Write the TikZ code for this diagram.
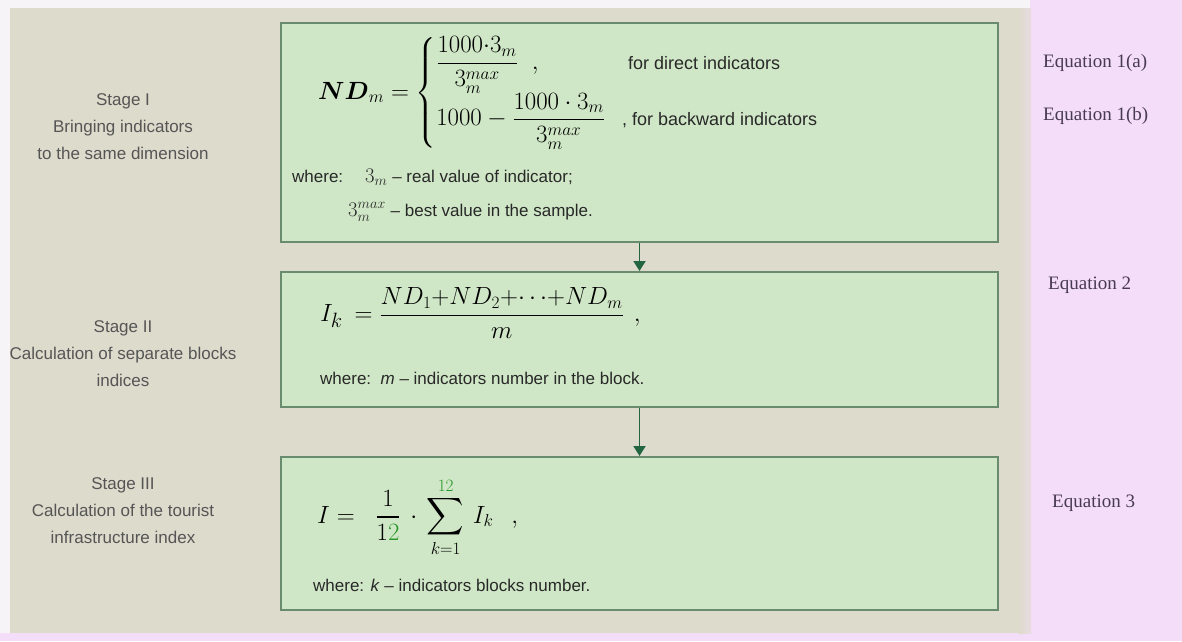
\documentclass[tikz,border=0pt]{standalone}
\usepackage{amsmath}
\usepackage{amssymb}
\usepackage[no-math]{fontspec}
\setmainfont{Liberation Sans}
\newfontfamily\eqfont{Liberation Serif}
\usepackage{xcolor}
\usetikzlibrary{arrows.meta}

\definecolor{pagewhite}{RGB}{246,244,246}
\definecolor{panelbeige}{RGB}{221,219,204}
\definecolor{panelpink}{RGB}{244,221,248}
\definecolor{boxfill}{RGB}{207,231,198}
\definecolor{boxline}{RGB}{106,140,110}
\definecolor{flowgreen}{RGB}{35,100,65}
\definecolor{stagegray}{RGB}{85,85,85}
\definecolor{labelplum}{RGB}{72,58,82}
\definecolor{inktext}{RGB}{40,40,40}
\definecolor{sumgreen}{RGB}{40,150,40}

\begin{document}
\begin{tikzpicture}[x=1pt,y=-1pt,>={Triangle[length=10pt,width=12pt]},
  stagebox/.style={draw=boxline,fill=boxfill,line width=2pt,minimum width=717pt,inner sep=0pt},
  stagelabel/.style={align=center,text=stagegray,font=\fontsize{17}{27}\selectfont},
  eqlabel/.style={anchor=west,inner sep=0pt,text=labelplum,font=\eqfont\fontsize{19}{21}\selectfont},
  formula/.style={anchor=west,inner sep=0pt,text=black},
  note/.style={anchor=west,inner sep=0pt,text=inktext,font=\fontsize{17}{20}\selectfont},
  flow/.style={->,draw=flowgreen,fill=flowgreen,line width=1.8pt}]
  \useasboundingbox (0,0) rectangle (1182,641);
  % background panels
  \fill[pagewhite] (0,0) rectangle (1182,641);
  \fill[panelpink] (1030,0) rectangle (1182,641);
  \fill[panelpink] (0,633) rectangle (1182,641);
  \fill[panelbeige] (10,8) rectangle (1031,633);
  \shade[left color=panelbeige,right color=panelpink!45!panelbeige] (1018,8) rectangle (1031,633);

  % stage boxes
  \node[stagebox,minimum height=219pt] (box1) at (639.5,132.5) {};
  \node[stagebox,minimum height=135pt] (box2) at (639.5,339.5) {};
  \node[stagebox,minimum height=153pt] (box3) at (639.5,533.5) {};
  \draw[flow] (box1.south) -- (box2.north);
  \draw[flow] (box2.south) -- (box3.north);

  % stage names
  \node[stagelabel] (stage1) at (123,127) {Stage I\\Bringing indicators\\to the same dimension};
  \node[stagelabel] (stage2) at (123,354) {Stage II\\Calculation of separate blocks\\indices};
  \node[stagelabel] (stage3) at (123,511) {Stage III\\Calculation of the tourist\\infrastructure index};

  % stage I
  \node[formula,font=\fontsize{23}{26}\selectfont] (ndm) at (318,93) {$\boldsymbol{ND}_m = \begin{cases} \dfrac{1000{\cdot}3_m}{3_m^{max}}\;\;, & \text{\fontsize{18}{20}\selectfont\color{inktext}for direct indicators}\\[10pt] 1000-\dfrac{1000\cdot 3_m}{3_m^{max}} & \text{\fontsize{18}{20}\selectfont\color{inktext}\hspace{-6pt}, for backward indicators} \end{cases}$};
  \node[note] (where1) at (292,177) {where:\hspace{22pt}{\fontsize{20}{20}\selectfont$3_m$} -- real value of indicator;};
  \node[note] (where1b) at (348,212) {{\fontsize{20}{20}\selectfont$3_m^{max}$} -- best value in the sample.};

  % stage II
  \node[formula,font=\fontsize{24}{28}\selectfont] (ik) at (320,313) {{\fontsize{31}{32}\selectfont$I_k$}\hspace{12pt}$= \dfrac{ND_1{+}ND_2{+}{\cdots}{+}ND_m}{m}$\hspace{10pt}$,$};
  \node[note] (where2) at (320,378) {where:\ \ \textit{m} -- indicators number in the block.};

  % stage III
  \node[formula,font=\fontsize{26}{30}\selectfont] (isum) at (317,517) {$\displaystyle I =\;\; \frac{1}{1\textcolor{sumgreen}{2}}\,\cdot\,\sum_{k=1}^{\textcolor{sumgreen}{12}}\, I_k\hspace{18pt},$};
  \node[note] (where3) at (313,585) {where: \textit{k} -- indicators blocks number.};

  % equation numbers
  \node[eqlabel] (eq1a) at (1043,63) {Equation 1(a)};
  \node[eqlabel] (eq1b) at (1043,116) {Equation 1(b)};
  \node[eqlabel] (eq2) at (1048,285) {Equation 2};
  \node[eqlabel] (eq3) at (1052,503) {Equation 3};
\end{tikzpicture}
\end{document}
